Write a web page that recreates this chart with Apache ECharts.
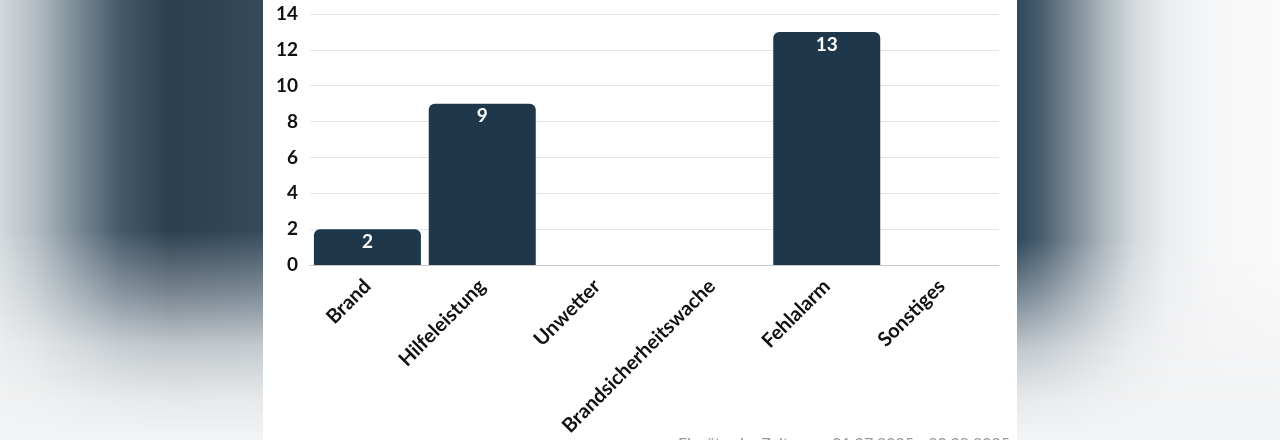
<!DOCTYPE html>
<html>
<head>
<meta charset="utf-8">
<script src="https://cdn.jsdelivr.net/npm/echarts@6/dist/echarts.min.js"></script>
<style>
  html, body { margin: 0; padding: 0; width: 1280px; height: 440px; overflow: hidden; }
  body { position: relative; background: #f3f4f5; }
  .side { position: absolute; top: 0; height: 440px; }
  #leftSide {
    left: 0; width: 263px;
    background: linear-gradient(90deg, #d3d9dc 0px, #b4bdc3 35px, #7d8d98 75px, #44596a 120px, #2b3f50 170px, #2f4455 220px, #354a5b 263px);
    -webkit-mask-image: linear-gradient(180deg, #000 0px, #000 230px, rgba(0,0,0,0.6) 295px, rgba(0,0,0,0.25) 345px, rgba(0,0,0,0.06) 400px, rgba(0,0,0,0) 440px);
    mask-image: linear-gradient(180deg, #000 0px, #000 230px, rgba(0,0,0,0.6) 295px, rgba(0,0,0,0.25) 345px, rgba(0,0,0,0.06) 400px, rgba(0,0,0,0) 440px);
  }
  #rightSide {
    left: 1017px; width: 263px;
    background: linear-gradient(90deg, #2f485b 0px, #4a5f70 25px, #7a8995 55px, #aab4bb 85px, #d2d8dc 115px, #ebedef 150px, #f6f7f8 200px, #fafafa 263px);
    -webkit-mask-image: linear-gradient(180deg, #000 0px, #000 240px, rgba(0,0,0,0.6) 300px, rgba(0,0,0,0.25) 350px, rgba(0,0,0,0.06) 400px, rgba(0,0,0,0) 440px);
    mask-image: linear-gradient(180deg, #000 0px, #000 240px, rgba(0,0,0,0.6) 300px, rgba(0,0,0,0.25) 350px, rgba(0,0,0,0.06) 400px, rgba(0,0,0,0) 440px);
  }
  #panel { position: absolute; left: 263px; top: 0; width: 754px; height: 440px; background: #ffffff; }
  #chart { position: absolute; left: 0; top: 0; width: 1280px; height: 440px; }
</style>
</head>
<body>
<div id="leftSide" class="side"></div>
<div id="rightSide" class="side"></div>
<div id="panel"></div>
<div id="chart"></div>
<script>
const categories = ['Brand', 'Hilfeleistung', 'Unwetter', 'Brandsicherheitswache', 'Fehlalarm', 'Sonstiges'];
const values = [2, 9, 0, 0, 13, 0];
const yTicks = { min: 0, max: 14, interval: 2 };
const footnote = 'Einsätze im Zeitraum: 01.07.2025 - 30.09.2025';

const chart = echarts.init(document.getElementById('chart'), null, { renderer: 'canvas' });
chart.setOption({
  backgroundColor: 'transparent',
  animation: false,
  grid: { left: 310, right: 281, top: 14, bottom: 175, containLabel: false },
  xAxis: {
    type: 'category',
    data: categories,
    axisLine: { lineStyle: { color: '#c8c8c8', width: 1 } },
    axisTick: { show: false },
    axisLabel: {
      rotate: 45, interval: 0, margin: 18,
      color: '#111', fontFamily: 'Lato', fontWeight: 'bold', fontSize: 20
    }
  },
  yAxis: {
    type: 'value',
    min: yTicks.min, max: yTicks.max, interval: yTicks.interval,
    axisLine: { show: false },
    axisTick: { show: false },
    splitLine: { lineStyle: { color: '#e2e2e2', width: 1 } },
    axisLabel: { margin: 12, color: '#111', fontFamily: 'Lato', fontWeight: 'bold', fontSize: 19 }
  },
  series: [{
    type: 'bar',
    data: values.map(v => v === 0 ? { value: v, label: { show: false } } : v),
    barWidth: 107,
    itemStyle: { color: '#1e374a', borderRadius: [6, 6, 0, 0] },
    label: {
      show: true, position: 'insideTop', distance: 3,
      color: '#ffffff', fontFamily: 'Lato', fontWeight: 'bold', fontSize: 19
    }
  }],
  graphic: [{
    type: 'text',
    right: 270,
    top: 436,
    style: { text: footnote, fill: '#9a9a9a', font: '16px Lato' }
  }]
});
</script>
</body>
</html>
